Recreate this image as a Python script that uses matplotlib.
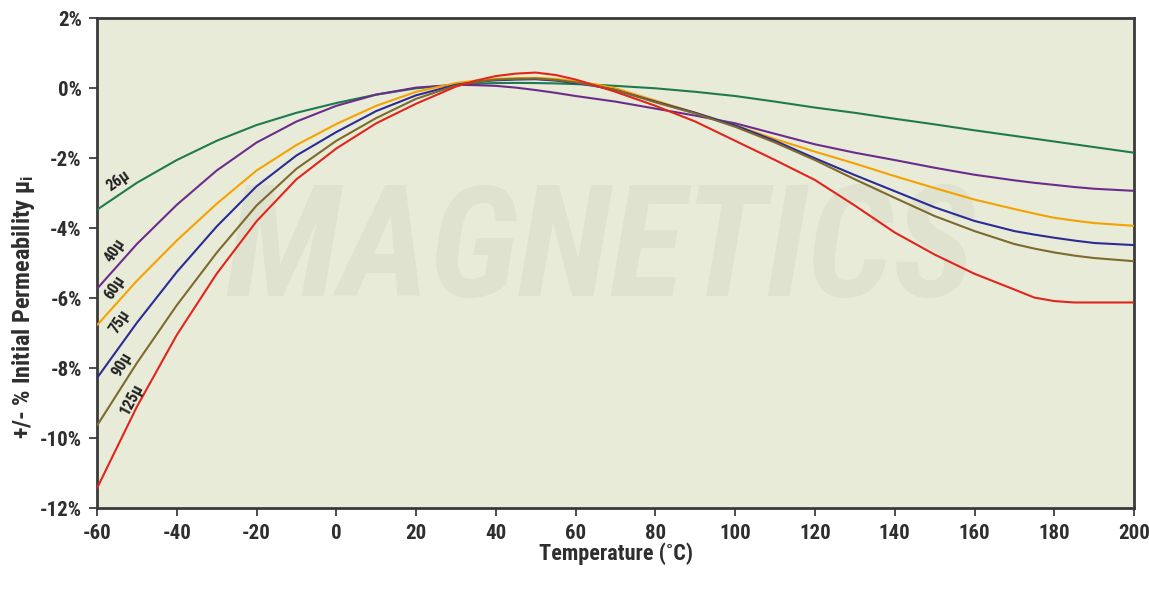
import matplotlib
matplotlib.use("Agg")
import matplotlib.pyplot as plt
from matplotlib import font_manager

temps = [-60, -50, -40, -30, -20, -10, 0, 10, 20, 30, 35, 40, 45, 50, 55, 60, 65, 70, 80, 90,
         100, 110, 120, 130, 140, 150, 160, 170, 175, 180, 185, 190, 200]

mu26 = [-3.47, -2.70, -2.05, -1.50, -1.05, -0.70, -0.42, -0.18, 0.00, 0.10, 0.13, 0.15, 0.155,
        0.15, 0.14, 0.12, 0.10, 0.07, 0.00, -0.10, -0.22, -0.38, -0.55, -0.70, -0.87, -1.03,
        -1.20, -1.36, -1.44, -1.52, -1.60, -1.68, -1.84]
mu40 = [-5.73, -4.45, -3.33, -2.35, -1.55, -0.95, -0.50, -0.18, 0.02, 0.10, 0.09, 0.07, 0.02,
        -0.05, -0.13, -0.22, -0.30, -0.38, -0.58, -0.78, -1.00, -1.30, -1.60, -1.84, -2.05,
        -2.27, -2.47, -2.63, -2.70, -2.76, -2.82, -2.87, -2.93]
mu60 = [-6.77, -5.50, -4.35, -3.30, -2.35, -1.62, -1.02, -0.50, -0.10, 0.15, 0.22, 0.27, 0.29,
        0.30, 0.27, 0.20, 0.11, 0.00, -0.35, -0.70, -1.06, -1.45, -1.81, -2.15, -2.51, -2.85,
        -3.18, -3.45, -3.58, -3.70, -3.78, -3.85, -3.93]
mu75 = [-8.28, -6.70, -5.25, -3.95, -2.80, -1.92, -1.25, -0.65, -0.20, 0.10, 0.18, 0.23, 0.25,
        0.26, 0.22, 0.15, 0.06, -0.05, -0.38, -0.70, -1.06, -1.50, -2.00, -2.48, -2.94, -3.40,
        -3.79, -4.08, -4.18, -4.27, -4.35, -4.42, -4.48]
mu90 = [-9.64, -7.85, -6.20, -4.70, -3.35, -2.30, -1.50, -0.85, -0.30, 0.08, 0.18, 0.25, 0.27,
        0.28, 0.24, 0.17, 0.07, -0.05, -0.40, -0.72, -1.10, -1.55, -2.05, -2.60, -3.13, -3.65,
        -4.08, -4.45, -4.58, -4.69, -4.78, -4.85, -4.94]
mu125 = [-11.43, -9.10, -7.05, -5.30, -3.80, -2.60, -1.72, -1.00, -0.44, 0.05, 0.22, 0.35, 0.42,
         0.45, 0.38, 0.25, 0.08, -0.10, -0.50, -0.95, -1.50, -2.05, -2.62, -3.35, -4.12, -4.75,
         -5.30, -5.75, -5.98, -6.08, -6.12, -6.12, -6.12]

series_names = ["26µ", "40µ", "60µ", "75µ", "90µ", "125µ"]
series_values = [mu26, mu40, mu60, mu75, mu90, mu125]
series_colors = ["#1f7a4d", "#6b2c8c", "#f5a200", "#2b2b96", "#7d6a2c", "#e0251d"]

# curve label anchor points (temperature, percent) and rotation
label_pos = [(-54.7, -2.65, 35), (-55.5, -4.63, 57), (-55.5, -5.68, 57),
             (-54.2, -6.67, 57), (-53.7, -7.89, 60), (-51.2, -8.88, 62)]

x_ticks = [-60, -40, -20, 0, 20, 40, 60, 80, 100, 120, 140, 160, 180, 200]
y_ticks = [2, 0, -2, -4, -6, -8, -10, -12]
y_tick_labels = ["2%", "0%", "-2%", "-4%", "-6%", "-8%", "-10%", "-12%"]

# pick a condensed/narrow face if one is installed
names = {f.name for f in font_manager.fontManager.ttflist}
fam = None
for cand in ["Roboto Condensed", "Liberation Sans Narrow", "Open Sans Condensed",
             "Noto Sans Condensed"]:
    if cand in names:
        fam = cand
        break
if fam is None:
    fam = "DejaVu Sans"
    plt.rcParams["font.stretch"] = "condensed"
plt.rcParams["font.family"] = [fam, "DejaVu Sans"]
plt.rcParams["axes.unicode_minus"] = False
plt.rcParams["mathtext.fontset"] = "custom"
plt.rcParams["mathtext.rm"] = fam
plt.rcParams["mathtext.it"] = fam
plt.rcParams["mathtext.bf"] = fam + ":bold"

txt = "#2e2e2e"
fig = plt.figure(figsize=(11.49, 5.91), dpi=100)
ax = fig.add_axes([0.0844, 0.1400, 0.9026, 0.8290])
ax.set_facecolor("#e9ebd9")

# faint watermark
ax.text(0.485, 0.52, "MAGNETICS", transform=ax.transAxes, ha="center", va="center",
        fontsize=112, fontweight="bold", color="#dfe2ce", style="italic", zorder=0)

for name, vals, col in zip(series_names, series_values, series_colors):
    ax.plot(temps, vals, color=col, lw=1.5, zorder=3, solid_capstyle="butt",
            solid_joinstyle="round")

for name, (tx, ty, rot) in zip(series_names, label_pos):
    ax.text(tx, ty, name, rotation=rot, ha="center", va="center", fontsize=11.5,
            fontweight="bold", color="#222222", zorder=4, rotation_mode="anchor")

ax.set_xlim(-60, 200)
ax.set_ylim(-12, 2)
ax.set_xticks(x_ticks)
ax.set_yticks(y_ticks)
ax.set_yticklabels(y_tick_labels)
ax.tick_params(axis="both", labelsize=15, colors=txt, length=6, width=1.2, direction="out", pad=5)
for lab in ax.get_xticklabels() + ax.get_yticklabels():
    lab.set_fontweight("bold")
for sp in ax.spines.values():
    sp.set_color("#3a3a3a")
    sp.set_linewidth(2)

ax.set_xlabel("Temperature (˚C)", fontsize=16, fontweight="bold", color=txt, labelpad=0)
ax.set_ylabel(r"+/- % Initial Permeability $\mathbf{\mu_i}$", fontsize=17.5, fontweight="bold",
              color=txt)
ax.yaxis.set_label_coords(-0.058, 0.41)

fig.savefig("out.png", dpi=100, facecolor="white")
